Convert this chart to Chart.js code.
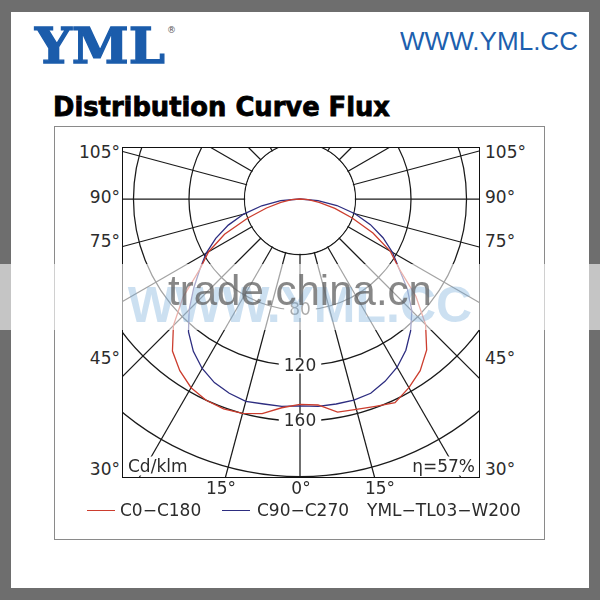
<!DOCTYPE html>
<html><head><meta charset="utf-8">
<script src="https://cdn.jsdelivr.net/npm/chart.js@4.4.0/dist/chart.umd.min.js"></script>
<style>
html,body{margin:0;padding:0;width:600px;height:600px;overflow:hidden;background:#6e6e6e;}
.abs{position:absolute;white-space:nowrap;line-height:1;}
#panel{position:absolute;left:11px;top:12px;width:578px;height:576px;background:#fff;}
#frame{position:absolute;left:54px;top:126px;width:491px;height:414px;box-sizing:border-box;border:1.5px solid #8a8a8a;}
#plot{position:absolute;left:123px;top:148px;width:356px;height:329px;overflow:hidden;background:#fff;}
#plot canvas{position:absolute;left:-163px;top:-289px;}
#plotBorder{position:absolute;left:122px;top:147px;width:358px;height:331px;box-sizing:border-box;border:1.3px solid #111;}
.lbl{font-family:"DejaVu Sans";font-size:17px;color:#2c2c2c;}
#logo{font-family:"DejaVu Serif";font-weight:bold;font-size:49px;color:#1b5cab;-webkit-text-stroke:1.3px #1b5cab;left:35px;top:22px;transform-origin:0 0;}
#reg{font-family:"DejaVu Sans";font-size:9px;color:#555;left:167px;top:26px;}
#url{font-family:"Liberation Sans";font-size:26px;color:#1d5fae;left:400px;top:28px;transform-origin:0 0;}
#title{font-family:"DejaVu Sans";font-weight:bold;font-size:26px;color:#000;-webkit-text-stroke:0.8px #000;left:53px;top:94px;transform-origin:0 0;}
#band{position:absolute;left:0;top:264px;width:600px;height:66px;background:rgba(255,255,255,0.6);}
#wm1{font-family:"Liberation Sans";font-size:42px;color:rgba(95,95,95,0.75);left:300px;top:291px;transform:translate(-50%,-50%);}
#wm2{font-family:"Liberation Sans";font-weight:bold;font-size:50px;color:rgba(110,165,215,0.35);left:300px;top:305px;transform:translate(-50%,-50%);}
</style></head>
<body>
<div id="panel"></div>
<div class="abs" id="logo">YML</div>
<div class="abs" id="reg">®</div>
<div class="abs" id="url">WWW.YML.CC</div>
<div class="abs" id="title">Distribution Curve Flux</div>
<div id="frame"></div>
<div id="plot"><canvas id="c" width="680" height="680" style="width:680px;height:680px"></canvas></div>
<div id="plotBorder"></div>
<div id="labels"></div>
<div id="band"></div>
<div class="abs" id="wm2">WWW.YML.CC</div>
<div class="abs" id="wm1">trade.china.cn</div>
<script>
// ---- data (cd/klm at gamma angles 0..90 step 5, measured from nadir) ----
const gammaAngles = [0,5,10,15,20,25,30,35,40,45,50,55,60,65,70,75,80,85,90];
const redLeft   = [148,151,157,160,161,160,157,151,143,129,110,88,76,60,40,25,14,6,0];
const redRight  = [147,149,156,157,159,162,157,151,142,128,109,87,75,58,40,26,14,6,0];
const blueLeft  = [149,150,150,151,149,146,141,134,125,113,100,88,78,67,55,42,28,14,0];
const blueRight = [149,150,150,150,149,145,140,133,124,114,101,87,77,66,54,41,27,13,0];
const seriesNames = ['C0\u2212C180','C90\u2212C270'];
const seriesColors = ['#cc3d2e','#2d2d80'];
const modelName = 'YML\u2212TL03\u2212W200';
const ringValues = [40,80,120,160,200];
const ringLabelValues = [80,120,160];
const sideLabels = ['105°','90°','75°','45°','30°'];
const bottomLabels = ['15°','0°','15°'];
const unitText = 'Cd/klm';
const effText = '\u03b7=57%';

// full-circle labels every 5 degrees, clockwise from nadir
const circleLabels = [];
for (let i = 0; i < 72; i++) circleLabels.push(String(i * 5));
function fullCircle(left, right) {
  return circleLabels.map((_, i) => i <= 18 ? left[i] : (i >= 54 ? right[72 - i] : 0));
}

const decor = {
  id: 'decor',
  beforeDatasetsDraw(chart) {
    const s = chart.scales.r, ctx = chart.ctx;
    const r0 = s.getDistanceFromCenterForValue(ringValues[0]);
    ctx.save();
    ctx.fillStyle = '#fff';
    ctx.beginPath(); ctx.arc(s.xCenter, s.yCenter, r0 - 0.7, 0, Math.PI * 2); ctx.fill();
    ctx.font = '17px "DejaVu Sans"';
    ctx.textAlign = 'center'; ctx.textBaseline = 'middle';
    ringLabelValues.forEach(v => {
      const d = s.getDistanceFromCenterForValue(v);
      const t = String(v); const w = ctx.measureText(t).width;
      ctx.fillStyle = '#fff';
      ctx.fillRect(s.xCenter - w / 2 - 5, s.yCenter + d - 8, w + 10, 16);
      ctx.fillStyle = '#2c2c2c';
      ctx.fillText(t, s.xCenter, s.yCenter + d + 1);
    });
    ctx.restore();
  }
};

const chart = new Chart(document.getElementById('c'), {
  type: 'radar',
  data: {
    labels: circleLabels,
    datasets: [
      {label: seriesNames[0], data: fullCircle(redLeft, redRight), borderColor: seriesColors[0]},
      {label: seriesNames[1], data: fullCircle(blueLeft, blueRight), borderColor: seriesColors[1]}
    ]
  },
  options: {
    responsive: false, animation: false, devicePixelRatio: 1,
    layout: {padding: 0},
    elements: {line: {borderWidth: 1.3, tension: 0, fill: false}, point: {radius: 0}},
    plugins: {legend: {display: false}, tooltip: {enabled: false}},
    scales: {
      r: {
        startAngle: 180, min: 0, max: 245, beginAtZero: true,
        ticks: {display: false, stepSize: 40},
        pointLabels: {display: false},
        grid: {circular: true, lineWidth: 1.25,
          color: ctx => (ctx.tick && ringValues.includes(ctx.tick.value)) ? '#1a1a1a' : 'rgba(0,0,0,0)'},
        angleLines: {color: '#1a1a1a', lineWidth: ctx => (ctx.index % 3 === 0 ? 1.25 : 0)}
      }
    }
  },
  plugins: [decor]
});

// ---- labels around the plot ----
const L = document.getElementById('labels');
function addLabel(text, x, y, align, extra) {
  const d = document.createElement('div');
  d.className = 'abs lbl'; d.textContent = text;
  d.style.left = x + 'px'; d.style.top = y + 'px';
  const tx = align === 'right' ? '-100%' : (align === 'center' ? '-50%' : '0');
  d.style.transform = 'translate(' + tx + ',-50%)';
  if (extra) Object.assign(d.style, extra);
  L.appendChild(d); return d;
}
const sideY = [152, 197, 241, 358, 469];
sideLabels.forEach((t, i) => { addLabel(t, 120, sideY[i], 'right'); addLabel(t, 485, sideY[i], 'left'); });
const bottomX = [221, 301, 380];
bottomLabels.forEach((t, i) => addLabel(t, bottomX[i], 488, 'center'));
addLabel(unitText, 128, 466, 'left', {background: '#fff', padding: '1px 0'});
addLabel(effText, 475, 466, 'right', {background: '#fff', padding: '1px 0'});

// legend from datasets
const legX = [[87, 120], [222, 257]];
chart.data.datasets.forEach((ds, i) => {
  const ln = document.createElement('div');
  ln.style.cssText = 'position:absolute;height:1.2px;width:28px;top:510px;left:' + legX[i][0] + 'px;background:' + ds.borderColor;
  document.body.appendChild(ln);
  addLabel(ds.label, legX[i][1], 510, 'left');
});
addLabel(modelName, 367, 510, 'left');

// fit header texts to measured widths
function fit(id, target) {
  const el = document.getElementById(id);
  const w = el.getBoundingClientRect().width;
  el.style.transform = 'scaleX(' + (target / w) + ')';
}
fit('logo', 130); fit('url', 178); fit('title', 337);
</script>
</body></html>
